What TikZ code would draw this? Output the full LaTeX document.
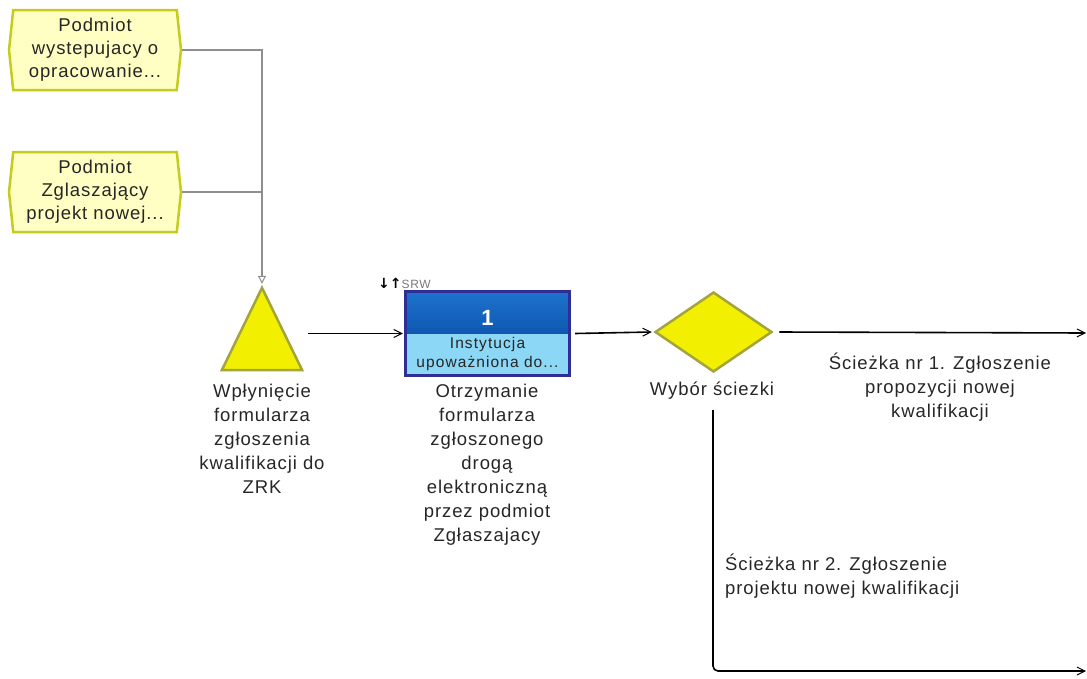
\documentclass[tikz,border=0pt]{standalone}
\usepackage{fontspec}
\setmainfont{Liberation Sans}[LetterSpace=5]
\newfontfamily\dejavu{DejaVu Sans}
\newfontfamily\tightsans{Liberation Sans}
\usetikzlibrary{shapes.geometric,shapes.symbols,arrows.meta}
\definecolor{evfill}{HTML}{FFFFC4}
\definecolor{evline}{HTML}{C4CC1E}
\definecolor{yel}{HTML}{F2F000}
\definecolor{oliveline}{HTML}{A4A43C}
\definecolor{navy}{HTML}{2E2E96}
\definecolor{blueA}{HTML}{0E58B2}
\definecolor{blueB}{HTML}{1E72CC}
\definecolor{blueLo}{HTML}{8CD6F6}
\definecolor{txt}{HTML}{262626}
\definecolor{conn}{HTML}{8E8E8E}
\begin{document}
\begin{tikzpicture}[x=1pt,y=-1pt,
  lbl/.style={font=\fontsize{18.5}{24}\selectfont, text=txt, align=center, inner sep=0pt},
  orgbox/.style={signal, signal to=east and west, signal pointer angle=168,
    draw=evline, fill=evfill, line width=2.5pt, minimum width=172pt, minimum height=80pt,
    inner sep=0pt, align=center, text=txt, font=\fontsize{18.5}{23}\selectfont},
  flow/.style={line width=1.6pt, -{Straight Barb[length=8pt,width=8pt,line width=1pt]}},
  grayline/.style={draw=conn, line width=1.2pt},
  grayflow/.style={grayline, -{Triangle[open,length=8pt,width=8pt,line width=1pt]}},
  hidden/.style={draw=none, inner sep=0pt}
]
\useasboundingbox (0,0) rectangle (1087,678);

% organisational boxes
\node[orgbox] (pod1) at (95,50) {Podmiot\\wystepujacy o\\opracowanie...};
\node[orgbox] (pod2) at (95,192) {Podmiot\\Zglaszający\\projekt nowej...};

% triangle (start event)
\node[hidden, minimum width=80pt, minimum height=82pt] (tri) at (262,329) {};
\draw[fill=yel, draw=oliveline, line width=2.5pt, line join=miter]
  (tri.north) -- (tri.south east) -- (tri.south west) -- cycle;

% process box
\node[hidden, minimum width=163pt, minimum height=83pt] (proc) at (487.5,333.5) {};
\fill[top color=blueB, bottom color=blueA] (proc.north west) rectangle (proc.east);
\fill[blueLo] (proc.west) rectangle (proc.south east);
\draw[navy, line width=3pt] (proc.north west) rectangle (proc.south east);
\node[font=\tightsans\fontsize{22}{24}\selectfont\bfseries, text=white, inner sep=0pt] (num) at (487.5,318) {1};
\node[font=\fontsize{15.5}{19}\selectfont\addfontfeatures{LetterSpace=7}, text=txt, align=center, inner sep=0pt] (inst) at (487.5,354) {Instytucja\\upoważniona do...};
\node[anchor=west, inner sep=0pt, font=\fontsize{12}{14}\selectfont] (srw) at (378,283)
  {{\dejavu\bfseries\fontsize{14}{14}\selectfont ↓↑}\textcolor{conn!85!black}{SRW}};

% decision diamond
\node[diamond, draw=oliveline, fill=yel, line width=2.5pt, minimum width=117pt,
  minimum height=80pt, inner sep=0pt] (dia) at (713.5,332) {};

% labels
\node[lbl, anchor=north] (l1) at (262,384) {Wpłynięcie\\formularza\\zgłoszenia\\kwalifikacji do\\ZRK};
\node[lbl, anchor=north] (l2) at (487,384) {Otrzymanie\\formularza\\zgłoszonego\\drogą\\elektroniczną\\przez podmiot\\Zgłaszajacy};
\node[lbl, anchor=base] (l3) at (712,395) {Wybór ściezki};
\node[lbl, anchor=north] (l4) at (940,353) {Ścieżka nr 1. Zgłoszenie\\propozycji nowej\\kwalifikacji};
\node[lbl, anchor=north west, align=left] (l5) at (725,554) {Ścieżka nr 2. Zgłoszenie\\projektu nowej kwalifikacji};

% connectors
\coordinate (e1) at (1086,333);
\coordinate (s2) at (713,410);
\coordinate (e2) at (1086,671);
\draw[grayflow] (pod1.east) -| ([yshift=4pt]tri.north);
\draw[grayline] (pod2.east) -- (pod2.east -| tri.north);
\draw[flow] ([xshift=6pt]tri.east |- proc.west) -- ([xshift=-3pt]proc.west);
\draw[flow] ([xshift=6pt]proc.east) -- ([xshift=-2pt]dia.west);
\draw[flow] ([xshift=6pt]dia.east) -- (e1);
\draw[flow, rounded corners=5pt] (s2) |- (e2);
\end{tikzpicture}
\end{document}
